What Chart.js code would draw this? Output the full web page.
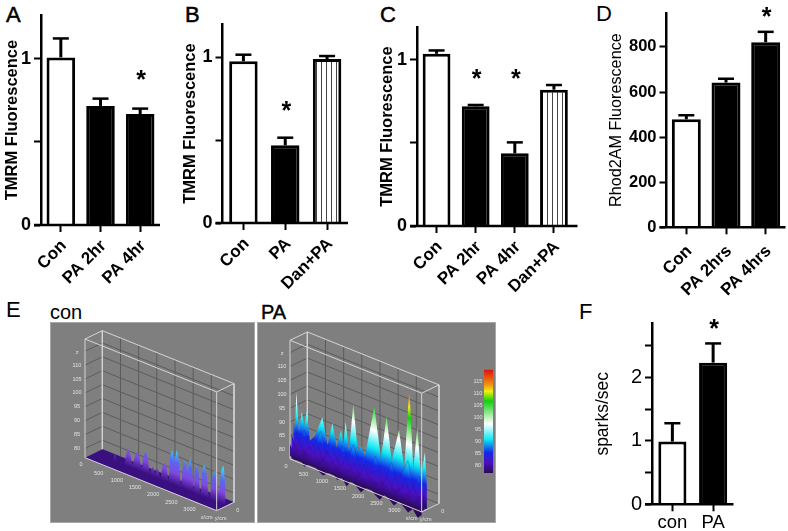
<!DOCTYPE html>
<html>
<head>
<meta charset="utf-8">
<title>TMRM panels</title>
<script src="https://cdn.jsdelivr.net/npm/chart.js@4"></script>
<style>
    html, body { margin: 0; padding: 0; background: #fff; }
    body { position: relative; width: 788px; height: 531px; overflow: hidden; font-family: "Liberation Sans", sans-serif; }
    canvas { position: absolute; }
    .tag { position: absolute; color: #000; line-height: 1; }
    .scene { background: #7f7f7f; box-shadow: inset 0 0 0 1px #a8a8a8; }
</style>
</head>
<body>
<div class="tag" style="left:6px;top:4px;font-size:22px;-webkit-text-stroke:.5px #000">A</div>
<div class="tag" style="left:185px;top:4px;font-size:22px;-webkit-text-stroke:.5px #000">B</div>
<div class="tag" style="left:380px;top:4px;font-size:22px;-webkit-text-stroke:.5px #000">C</div>
<div class="tag" style="left:596px;top:3px;font-size:22px">D</div>
<div class="tag" style="left:6px;top:299px;font-size:22px">E</div>
<div class="tag" style="left:579px;top:301px;font-size:22px">F</div>
<div class="tag" style="left:50px;top:302px;font-size:20px">con</div>
<div class="tag" style="left:261px;top:302px;font-size:20px;-webkit-text-stroke:.4px #000">PA</div>

<canvas id="chartA" width="175" height="300" style="left:0;top:0"></canvas>
<canvas id="chartB" width="190" height="300" style="left:179px;top:0"></canvas>
<canvas id="chartC" width="213" height="300" style="left:375px;top:0"></canvas>
<canvas id="chartD" width="193" height="300" style="left:595px;top:0"></canvas>
<canvas id="chartF" width="198" height="231" style="left:590px;top:300px"></canvas>
<canvas id="sceneCon" class="scene" width="205" height="201" style="left:50px;top:322px"></canvas>
<canvas id="scenePA" class="scene" width="239" height="201" style="left:257px;top:322px"></canvas>

<script>
// Bar panels
const labelsA = ['Con', 'PA 2hr', 'PA 4hr'];
const valuesA = [1.008, 0.716, 0.667];
const errorsA = [1.122, 0.76, 0.70];
const starsA = [null, null, 0.89];

const labelsB = ['Con', 'PA', 'Dan+PA'];
const valuesB = [0.974, 0.468, 0.988];
const errorsB = [1.014, 0.514, 1.006];
const starsB = [null, 0.695, null];

const labelsC = ['Con', 'PA 2hr', 'PA 4hr', 'Dan+PA'];
const valuesC = [1.036, 0.72, 0.437, 0.82];
const errorsC = [1.056, 0.728, 0.503, 0.848];
const starsC = [null, 0.90, 0.90, null];

const labelsD = ['Con', 'PA 2hrs', 'PA 4hrs'];
const valuesD = [479, 642, 821];
const errorsD = [497, 659, 867];
const starsD = [null, null, 945];

const labelsF = ['con', 'PA'];
const valuesF = [0.99, 2.237];
const errorsF = [1.28, 2.54];
const starsF = [null, 2.81];

// Panel E, surface plots: x along the sample, z is the fluorescence height
const conPeakX = [0, 520, 560, 587, 615, 660, 830, 900, 954, 1010, 1075, 1145, 1202, 1260, 1320, 1375, 1431, 1490, 1545, 1590, 1624, 1660, 1695, 1725, 1752, 1785, 1840, 1900, 1954, 2010, 2060, 2110, 2165, 2225, 2284, 2340, 2410, 2460, 2514, 2585, 2651, 2700, 2760, 2785, 2835, 2885, 2940, 2990, 3046, 3100, 3190, 3280, 3339, 3400, 3450, 3515, 3569, 3610, 3624];
const conPeakZ = [76.7, 76.7, 78.5, 79.8, 78.5, 76.7, 76.7, 81.5, 83.1, 81.5, 78.5, 82, 83.6, 82, 78.5, 83, 84.6, 83, 77.5, 79.5, 80.4, 79.5, 78, 80, 80.5, 79.5, 77.5, 82.5, 83.5, 82, 77.5, 87, 89.2, 86.5, 89.8, 87, 77.5, 85.5, 87.4, 84, 88.7, 86, 77.5, 85, 87.3, 85, 77.5, 86, 88.7, 86, 77.5, 86, 88.1, 85, 81, 89, 91, 86, 77];

const paBackX = [0, 31, 105, 178, 251, 316, 407, 545, 747, 894, 1022, 1141, 1261, 1325, 1389, 1481, 1600, 1719, 1811, 1921, 2178, 2361, 2517, 2655, 2857, 3003, 3141, 3251, 3361, 3461, 3572, 3624];
const paBackZ = [88, 100.2, 86, 93.8, 89, 94.6, 84.5, 87, 94.7, 85.5, 94.2, 86, 92.9, 88, 96.5, 86.5, 104.2, 88, 90, 87, 106, 88.5, 104.4, 89, 101.3, 88, 118.3, 89, 105.6, 88, 97, 85];
const paMidX = [0, 150, 300, 450, 600, 750, 900, 1050, 1200, 1350, 1500, 1650, 1800, 1950, 2100, 2250, 2400, 2550, 2700, 2850, 3000, 3150, 3300, 3450, 3600];
const paMidZ = [89, 83, 88, 82, 85, 90, 83, 87, 82, 88, 84, 90, 83, 87, 82, 89, 84, 83, 89, 82, 87, 92, 83, 88, 81];
const paLowX = [0, 110, 240, 350, 480, 620, 730, 860, 980, 1120, 1240, 1370, 1480, 1620, 1730, 1870, 1990, 2120, 2230, 2370, 2490, 2610, 2740, 2860, 2990, 3110, 3240, 3360, 3480, 3624];
const paLowZ = [85, 81, 84, 80, 83, 81, 85, 80, 84, 81, 83, 80, 85, 81, 84, 80, 85, 81, 83, 85, 80, 84, 81, 85, 80, 86, 81, 84, 80, 82];
const paFrontX = [0, 130, 260, 390, 520, 650, 780, 910, 1040, 1170, 1300, 1430, 1560, 1690, 1820, 1950, 2080, 2210, 2340, 2470, 2600, 2730, 2860, 2990, 3120, 3250, 3380, 3510, 3624];
const paFrontZ = [82, 79.5, 81, 79, 80.5, 82, 79, 80.5, 79.5, 81, 79, 82, 79.5, 81, 79, 80.5, 82, 79.5, 79, 81, 79.5, 82, 79, 80.5, 83, 79.5, 81, 79, 80.5];
const paFrontLow = [78, 77, 78.5, 76, 77.5, 78, 76.5, 75.5, 77, 78, 76, 77.5, 75, 78, 76.5, 75, 77, 78, 76, 75, 77.5, 76.5, 75, 77, 76, 74.5, 76.5, 74, 75.5];

const xTicks = [500, 1000, 1500, 2000, 2500, 3000];
const zTicks = [80, 85, 90, 95, 100, 105, 110];
const barTicks = [80, 85, 90, 95, 100, 105, 110, 115];
const zStops = [77, 81.4, 85.5, 91, 97.5, 107, 111, 114, 120];
const zColors = ['#2a0a58', '#4a10c0', '#1428e8', '#10e8f0', '#ffffff', '#10d010', '#f0f010', '#f09010', '#e01010'];
const conColors = ['#3a0f80', '#8048e0', '#5868f4', '#30f0ff', '#ffffff', '#10d010', '#f0f010', '#f09010', '#e01010'];

Chart.defaults.font.family = '"Liberation Sans", Arial, sans-serif';
Chart.defaults.color = '#000';
Chart.defaults.animation = false;
Chart.defaults.devicePixelRatio = 1;
Chart.defaults.responsive = false;
Chart.defaults.plugins.legend.display = false;
Chart.defaults.plugins.tooltip.enabled = false;

// Error bars, stars and the lengthened x axis
const prismExtras = {
    id: 'prismExtras',
    afterDatasetsDraw(chart, args, opts) {
        const ctx = chart.ctx, yScale = chart.scales.y;
        const bars = chart.getDatasetMeta(0).data;
        ctx.save();
        ctx.strokeStyle = '#000';
        ctx.fillStyle = '#000';
        bars.forEach((bar, i) => {
            const top = yScale.getPixelForValue(opts.errors[i]);
            ctx.lineWidth = 3;
            ctx.beginPath();
            ctx.moveTo(bar.x, bar.y);
            ctx.lineTo(bar.x, top);
            ctx.stroke();
            ctx.lineWidth = 2.5;
            ctx.beginPath();
            ctx.moveTo(bar.x - 8, top);
            ctx.lineTo(bar.x + 8, top);
            ctx.stroke();
            if (opts.stars[i] !== null) {
                ctx.font = 'bold 25px "Liberation Sans"';
                ctx.textAlign = 'center';
                ctx.textBaseline = 'alphabetic';
                ctx.fillText('*', bar.x + 1, yScale.getPixelForValue(opts.stars[i]) + 11);
            }
        });
        // x axis sticks out a little on the left and sometimes on the right
        const zero = yScale.getPixelForValue(0);
        ctx.lineWidth = 2.5;
        ctx.beginPath();
        ctx.moveTo(chart.chartArea.left - 7, zero);
        ctx.lineTo(chart.chartArea.right + opts.extra, zero);
        ctx.stroke();
        ctx.restore();
    }
};

function stripePattern() {
    const c = document.createElement('canvas');
    c.width = 5;
    c.height = 4;
    const g = c.getContext('2d');
    g.fillStyle = '#fff';
    g.fillRect(0, 0, 5, 4);
    g.fillStyle = '#444';
    g.fillRect(2, 0, 1, 4);
    return g.createPattern(c, 'repeat');
}

function barPanel(id, p) {
    const canvas = document.getElementById(id);
    const left = canvas.offsetLeft, top = canvas.offsetTop;
    new Chart(canvas, {
        type: 'bar',
        data: {
            labels: p.labels,
            datasets: [{
                data: p.values,
                backgroundColor: p.fills,
                borderColor: '#000',
                borderWidth: 3,
                barPercentage: p.barWidth,
                categoryPercentage: 1
            }]
        },
        options: {
            layout: { padding: { top: p.top - top, right: canvas.width - (p.right - left), left: 0, bottom: 0 } },
            plugins: { prismExtras: { errors: p.errors, stars: p.stars, extra: p.extra || 0 } },
            scales: {
                x: {
                    afterFit(s) { s.height = canvas.height - (p.zero - top); },
                    border: { display: false },
                    grid: { offset: false, drawOnChartArea: false, tickLength: 7, tickWidth: 2, tickColor: '#000' },
                    ticks: {
                        autoSkip: false,
                        minRotation: p.rotation,
                        maxRotation: p.rotation,
                        labelOffset: p.rotation ? 3 : 0,
                        padding: p.rotation ? (p.xPad || 4) : 1,
                        font: { size: p.xFont, weight: p.xWeight || p.weight }
                    }
                },
                y: {
                    min: 0,
                    max: p.max,
                    afterFit(s) { s.width = p.left - left; },
                    border: { color: '#000', width: 2.5 },
                    grid: { drawOnChartArea: false, tickLength: 7, tickWidth: 2, tickColor: '#000' },
                    title: { display: true, text: p.title, padding: { top: p.titlePad || 0, bottom: 0 }, font: { size: p.titleFont, weight: p.weight } },
                    ticks: {
                        stepSize: p.step,
                        includeBounds: false,
                        padding: 3,
                        font: { size: p.yFont, weight: p.yWeight || p.weight },
                        callback: p.yLabel
                    }
                }
            }
        },
        plugins: [prismExtras]
    });
}

const stripes = stripePattern();
const wholeOnly = v => (Number.isInteger(v) ? v : '');

barPanel('chartA', { labels: labelsA, values: valuesA, errors: errorsA, stars: starsA,
    fills: ['#fff', '#000', '#000'], left: 41, right: 160, top: 15, zero: 225, max: 1.263, step: 0.5,
    barWidth: 0.72, rotation: 45, xFont: 17, yFont: 18, titleFont: 16.5, titlePad: 3, weight: 'bold', yLabel: wholeOnly,
    title: 'TMRM Fluorescence' });
barPanel('chartB', { labels: labelsB, values: valuesB, errors: errorsB, stars: starsB,
    fills: ['#fff', '#000', stripes], left: 222.5, right: 348, top: 24, zero: 223, max: 1.199, step: 0.5,
    barWidth: 0.68, rotation: 45, xFont: 17, yFont: 18, titleFont: 16.5, titlePad: 2, weight: 'bold', yLabel: wholeOnly,
    title: 'TMRM Fluorescence' });
barPanel('chartC', { labels: labelsC, values: valuesC, errors: errorsC, stars: starsC,
    fills: ['#fff', '#000', '#000', stripes], left: 417, right: 573.5, top: 27, zero: 226, max: 1.197, step: 0.5, extra: 4,
    barWidth: 0.71, rotation: 45, xFont: 17, yFont: 18, titleFont: 16.5, titlePad: 3, weight: 'bold', yLabel: wholeOnly,
    title: 'TMRM Fluorescence' });
barPanel('chartD', { labels: labelsD, values: valuesD, errors: errorsD, stars: starsD,
    fills: ['#fff', '#000', '#000'], left: 666.5, right: 785.5, top: 9, zero: 227.3, max: 951, step: 200,
    barWidth: 0.73, rotation: 45, xFont: 17, xWeight: 'bold', xPad: 7, yFont: 16.5, yWeight: 'bold', titleFont: 16.2, weight: 'normal', titlePad: 12,
    title: 'Rhod2AM Fluorescence' });
barPanel('chartF', { labels: labelsF, values: valuesF, errors: errorsF, stars: starsF,
    fills: ['#fff', '#000'], left: 652, right: 733.5, top: 323.3, zero: 504.3, max: 2.858, step: 0.5,
    barWidth: 0.69, rotation: 0, xFont: 18.5, yFont: 20, titleFont: 17.5, weight: 'normal', titlePad: 3, yLabel: wholeOnly,
    title: 'sparks/sec' });

// Panel E: simple oblique projection of the 3D box onto the canvas
const zFloor = 76.7, zRoof = 119.4, xEnd = 3624;
const perUm = { x: 0.03633, y: 0.0146 };
const perDepth = { x: 17.33, y: -8.33 };
const perZ = 2.78;

function scene(id, origin, rows, extra) {
    const canvas = document.getElementById(id);
    const g = canvas.getContext('2d');
    const project = (x, y, z) => ({
        x: origin.x + x * perUm.x + y * perDepth.x,
        y: origin.y + x * perUm.y + y * perDepth.y - (z - zFloor) * perZ
    });
    const datasets = [];
    const add = (pts, o) => datasets.push(Object.assign({
        data: pts, showLine: true, pointRadius: 0, borderWidth: 1, borderColor: '#5c5c5c',
        fill: false, order: -datasets.length
    }, o));

    // one colour ramp per depth, bands of equal z run along the sample
    const ramp = (y, colors) => {
        const p0 = project(0, y, zFloor);
        const len = Math.hypot(perUm.x, perUm.y);
        const span = zStops[zStops.length - 1] - zFloor;
        const h = span * perZ * (perUm.x / len);
        const grad = g.createLinearGradient(p0.x, p0.y, p0.x + (perUm.y / len) * h, p0.y - (perUm.x / len) * h);
        zStops.forEach((z, i) => grad.addColorStop((z - zFloor) / span, colors[i]));
        return grad;
    };

    // back and left walls
    xTicks.concat([xEnd]).forEach(x => add([project(x, 1, zFloor), project(x, 1, zRoof)], {}));
    zTicks.concat([115]).forEach(z => add([project(0, 0, z), project(0, 1, z), project(xEnd, 1, z)], {}));
    add([project(0, 1, zFloor), project(xEnd, 1, zFloor)], {});

    // light frame behind the surface
    const light = { borderColor: '#d4d4d4' };
    add([project(0, 0, zFloor), project(0, 0, zRoof), project(0, 1, zRoof), project(0, 1, zFloor)], light);
    add([project(0, 1, zRoof), project(xEnd, 1, zRoof), project(xEnd, 0, zRoof), project(0, 0, zRoof)], light);
    add([project(xEnd, 1, zRoof), project(xEnd, 1, zFloor)], light);

    // floor
    if (extra.floor) {
        add([project(0, 0, zFloor), project(0, 1, zFloor), project(xEnd, 1, zFloor), project(xEnd, 0, zFloor), project(0, 0, zFloor)],
            { fill: 'shape', backgroundColor: extra.floor, borderWidth: 0 });
    }

    rows.forEach(r => {
        const topLine = r.x.map((x, i) => project(x, r.y, r.z[i]));
        const low = r.low
            ? r.x.map((x, i) => project(x, r.y, r.low[i])).reverse()
            : [project(r.x[r.x.length - 1], r.y, zFloor), project(r.x[0], r.y, zFloor)];
        add(topLine.concat(low), { fill: 'shape', backgroundColor: ramp(r.y, r.colors || zColors), borderWidth: r.edge ? 0.6 : 0, borderColor: r.edge || '#000', tension: r.tension || 0 });
    });

    // front of the frame goes over the surface
    add([project(0, 0, zFloor), project(xEnd, 0, zFloor), project(xEnd, 1, zFloor)], light);
    add([project(xEnd, 0, zFloor), project(xEnd, 0, zRoof)], light);

    // little colour scale next to the PA plot
    if (extra.bar) {
        const b = extra.bar;
        const toY = z => b.bottom - (z - 77) * b.perZ;
        const grad = g.createLinearGradient(0, toY(77), 0, toY(120));
        zStops.forEach((z, i) => grad.addColorStop((z - 77) / 43, zColors[i]));
        add([{ x: b.left, y: toY(77) }, { x: b.right, y: toY(77) }, { x: b.right, y: toY(120) }, { x: b.left, y: toY(120) }, { x: b.left, y: toY(77) }],
            { fill: 'shape', backgroundColor: grad, borderWidth: 0 });
    }

    const sceneText = {
        id: 'sceneText',
        afterDatasetsDraw(chart) {
            const ctx = chart.ctx;
            const put = (txt, x, y) => ctx.fillText(txt, x, y);
            ctx.save();
            ctx.font = '5.5px "Liberation Sans"';
            ctx.fillStyle = '#e2e2e2';
            ctx.textAlign = 'center';
            ctx.textBaseline = 'middle';
            zTicks.forEach(z => { const p = project(0, 0, z); put(String(z), p.x - 8, p.y); });
            let p = project(0, 0, 114.5);
            put('z', p.x - 8, p.y);
            p = project(0, 0, zFloor);
            put('0', p.x - 4, p.y + 7);
            xTicks.forEach(x => { const q = project(x, 0, zFloor); put(String(x), q.x - 4.5, q.y + 8); });
            p = project(xEnd, 0, zFloor);
            put('x/cm', p.x - 10, p.y + 7);
            put('y/cm', p.x + 4, p.y + 8);
            put('0', p.x + 21, p.y);
            if (extra.bar) {
                barTicks.forEach(z => put(String(z), extra.bar.left - 6, extra.bar.bottom - (z - 77) * extra.bar.perZ));
            }
            ctx.restore();
        }
    };

    new Chart(canvas, {
        type: 'scatter',
        data: { datasets },
        options: {
            layout: { padding: 0 },
            scales: {
                x: { display: false, min: 0, max: canvas.width },
                y: { display: false, min: 0, max: canvas.height, reverse: true }
            }
        },
        plugins: [sceneText]
    });
}

scene('sceneCon', { x: 35, y: 135.7 },
    [{ y: 0.5, x: conPeakX, z: conPeakZ, tension: 0.3, colors: conColors }],
    { floor: '#3a0f80' });

scene('scenePA', { x: 33, y: 137 },
    [
        { y: 0.3, x: paBackX, z: paBackZ },
        { y: 0.2, x: paMidX, z: paMidZ, edge: 'rgba(26,26,160,0.4)' },
        { y: 0.1, x: paLowX, z: paLowZ, edge: 'rgba(42,10,128,0.4)' },
        { y: 0, x: paFrontX, z: paFrontZ, low: paFrontLow }
    ],
    { bar: { left: 227, right: 236, bottom: 151, perZ: 2.4 } });
</script>
</body>
</html>
